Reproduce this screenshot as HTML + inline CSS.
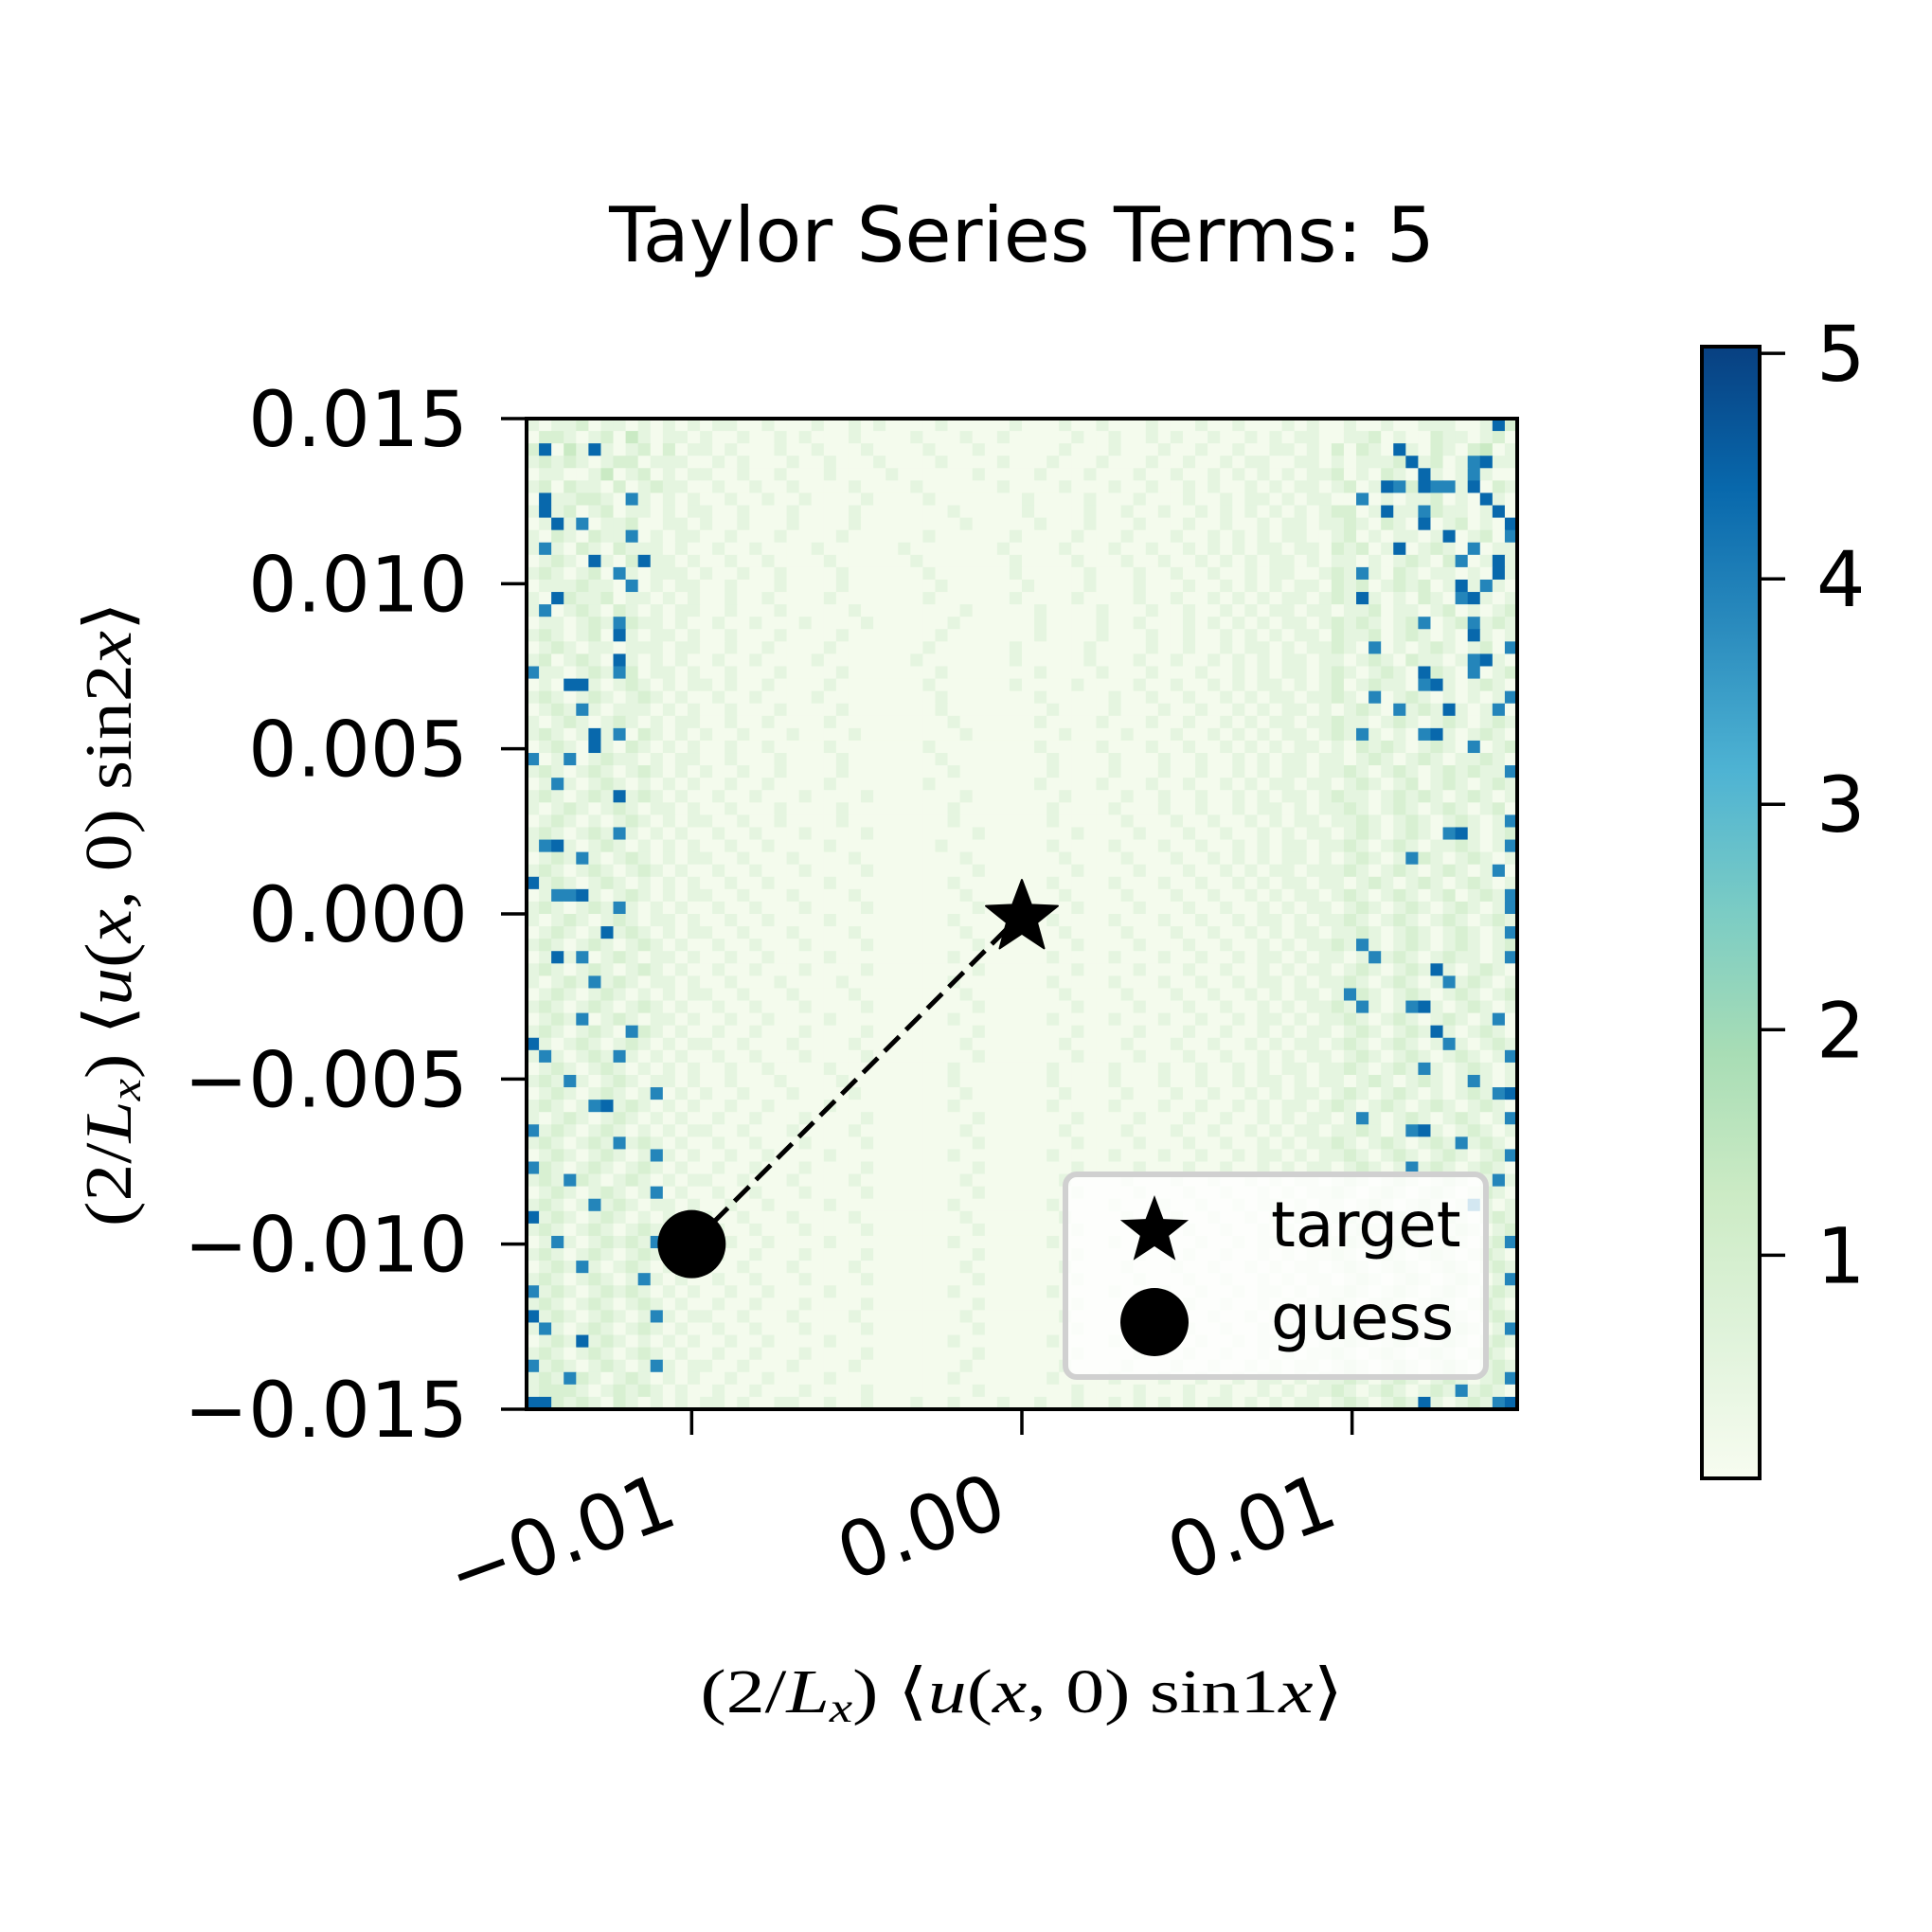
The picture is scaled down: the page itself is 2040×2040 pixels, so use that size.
<!DOCTYPE html>
<html><head><meta charset="utf-8"><style>
html,body{margin:0;padding:0;background:#fff;}
svg{display:block;}
text{font-family:"DejaVu Sans","Liberation Sans",sans-serif;fill:#000;}
.serif{font-family:"Liberation Serif","DejaVu Serif",serif;}
</style></head><body>
<svg id="chart" width="2040" height="2040" viewBox="0 0 2040 2040" xmlns="http://www.w3.org/2000/svg">
<rect width="2040" height="2040" fill="#fff"/>
<defs>
<linearGradient id="gnbu" x1="0" y1="1" x2="0" y2="0">
<stop offset="0" stop-color="#f7fcf0"/><stop offset="0.125" stop-color="#e0f3db"/><stop offset="0.25" stop-color="#ccebc5"/><stop offset="0.375" stop-color="#a8ddb5"/><stop offset="0.5" stop-color="#7bccc4"/><stop offset="0.625" stop-color="#4eb3d3"/><stop offset="0.75" stop-color="#2b8cbe"/><stop offset="0.875" stop-color="#0868ac"/><stop offset="1" stop-color="#084081"/>
</linearGradient>
</defs>
<text x="1079" y="276" font-size="80" text-anchor="middle">Taylor Series Terms: 5</text>
<g id="cells"></g>
<g id="marks"></g>
<rect x="556" y="442" width="1046" height="1046" fill="none" stroke="#000" stroke-width="4"/>
<g id="xticks"></g>
<g id="yticks"></g>
<g>
<rect x="1125" y="1240" width="444" height="214" rx="12" fill="#fff" fill-opacity="0.8" stroke="#d0d0d0" stroke-width="6"/>
<polygon id="lstar" fill="#000"/>
<circle cx="1219" cy="1396" r="36" fill="#000"/>
<text x="1342" y="1316" font-size="66">target</text>
<text x="1342" y="1414" font-size="66">guess</text>
</g>
<text class="serif" transform="translate(138,965) rotate(-90)" font-size="70" text-anchor="middle" textLength="660" lengthAdjust="spacingAndGlyphs">(2/<tspan font-style="italic">L</tspan><tspan font-style="italic" font-size="46" dy="10">x</tspan><tspan dy="-10">) ⟨</tspan><tspan font-style="italic">u</tspan>(<tspan font-style="italic">x</tspan>, 0) sin2<tspan font-style="italic">x</tspan>⟩</text>
<text class="serif" x="1079" y="1808" font-size="66" text-anchor="middle" textLength="679" lengthAdjust="spacingAndGlyphs">(2/<tspan font-style="italic">L</tspan><tspan font-style="italic" font-size="44" dy="10">x</tspan><tspan dy="-10">) ⟨</tspan><tspan font-style="italic">u</tspan>(<tspan font-style="italic">x</tspan>, 0) sin1<tspan font-style="italic">x</tspan>⟩</text>
<g>
<rect x="1797" y="366" width="61" height="1195" fill="url(#gnbu)" stroke="#000" stroke-width="4"/>
<g id="cticks"></g>
</g>
</svg>
<script>
const rows = [
"10112011010101011001000100101000010000010001001000100010010001010010010011100182",
"02210120310110100100101000100001000100100000100100101001001010110011201002110120",
"28031810120201101000100100010000100010000001000100010010010011010202108102102301",
"12121012201110010100010010001000010000100010001000100100101100110101112812017811",
"01100130120101100100100010000100000010000100010001001001010101011201021081017100",
"12021102012110010010010000100001000000100001000100100101001010110120187287718021",
"08112210710101001001001000010000100000001000010001000100101101011007010112010810",
"18120120110101100100010000100000001000001000010010010010101010101220181172110180",
"01817011200110100100010000100000000100000100010001000100100101101121021080120108",
"10210211701011001000100001000000100000010000100010001001010101100120101101801207",
"17102102111010010010000100000010000000100001000100100101010110110212018012107011",
"01210810281101001001000010000001000000010000100010010010101011010110101210270181",
"12101207101110100100100001000000100000010000010001001001001011001217102101101081",
"01112110701011001000100001000000010000001000010001000100101010110212012120181710",
"10821120110101001001000010000000100000010000100001001001010101101218101021078101",
"17012102101011001000100000100000000100000100001000100100101011011011201101201012",
"01101217211010010010001000010000001000000100001001000101010101101212101270127121",
"12101208101101001000100001000000010000000100001000100100101010110211201210108101",
"01210110111011001001000010000000100000010000010000100100101101011210701012101207",
"12012108101010010010000100000001000000010000010001001001010101101101210211017810",
"71101217201101001000100001000000010000000100001000100010010101101210121082107012",
"01088101210101101001000010000000100000010000100001001001010110101201211078101210",
"12101210121010010010000100000000010000000100000100100100101011011210701210101017",
"01217101110101001000100001000000010000000010000100010010010101101012107121810170",
"10121012101011001001000010000000001000000100001000100100101011011211012101210121",
"12101817021010100100010000100000000100000001000010001001010101101217101078101210",
"01210810210101001001000010000000100000000100001000100100101010110102121012107012",
"70170121101011001000100001000000010000000010000100010010010101101101210121011210",
"12101210121010100100100001000000001000000010000100010010010101101121012101212117",
"01710121010101001001000010000000100000000100001000100100101011011012101201210121",
"12101218121010010010001000010000000100000001000010010010010101101211012121012101",
"10121012101101001000100001000000001000000010000100010010010110101121012101210120",
"01210101210101100100100001000000001000000010000010001001001010110112101210121017",
"12101217101010010010001000010000000010000000100001000100100101011012101210781012",
"17810121010101001001000010000000010000000010000100010010010101101121012101121017",
"01217101210101100100010000100000000100000001000010001001010101101012101721012101",
"12101210121010010010001000010000000010000000100001000100101011011121012101210170",
"81210121010101001001000010000000001000000010000100010010010101101101210121012101",
"01778101210101100100010000100000000100000001000010001001001010110121012101201217",
"12101217101010010010001000010000000010000000100001000100100101011012101210121017",
"10121012101101001001000010000000001000000010000100010010010110101121012101210121",
"01210181210101100100010000100000000100000001000010001001001010110112101210121017",
"12101210121010010010001000010000000010000000100001000100100101011217101210121012",
"01817012101101001001000010000000001000000010000100010010010110101101712101211017",
"12101210121010010010001000010000000010000000100001000100100101011012101218101210",
"10121712101101001000100001000000001000000010000100010010010110101121012101712101",
"01210121010101100100010000100000000100000001000010001001001010110172101210121012",
"12101210121010010010001000010000000010000000100001000100100101011217101781012101",
"01217012101101001001000010000000001000000010000100010010010110101121012101210170",
"12101210721010010010001000010000000010000000100001000100100101011012101218101210",
"81012101210101100100010000100000000100000001000010001001001010110121012101710121",
"17101217101010010010001000010000000010000000100001000100100101011012101210121017",
"01210121010101001001000010000000001000000010000100010010010101101121012171012101",
"12171012101101001000100001000000001000000010000100010010010110101101210121017101",
"01210121017010100100010000100000000100000001000010001001001010110121012101012178",
"12101781210101001001000010000000001000000010000100010010010101101210121012101210",
"10121012101010010010001000010000000010000000100001000100100101011017101210121017",
"71210121010101100100010000100000000100000001000010001001001010110112101781012101",
"12101217121010010010001000010000000010000000100001000100100101011210121012171210",
"01210121017101001001000010000000001000000010000100010010010110101121012101210127",
"72101210121010010010001000010000000010000000100001000100100101011012101712101210",
"12172101210101100100010000100000000100000001000010001001001010110121012101210171",
"01210121017010010010001000010000000010000000100001000100100101011210121012101210",
"12101712101101001001000010000000001000000010000100010010010110101101210121017101",
"81210121010101100100010000100000000100000001000010001001001010110121012101210121",
"12101210121010010010001000010000000010000000100001000100100101011012101210121012",
"01710121217101001001000010000000001000000010000100010010010110101121012101210127",
"12101210121010010010001000010000000010000000100001000100100101011210121012101210",
"01217101210101100100010000100000000100000001000010001001001010110121012101210121",
"12101210171010010010001000010000000010000000100001000100100101011012101210121017",
"71210121210101001001000010000000001000000010000100010010010110101121012101210121",
"12101210121010010010001000010000000010000000100001000100100101011210121012101210",
"81210121017101100100010000100000000100000001000010001001001010110121012101210121",
"17101210121010010010001000010000000010000000100001000100100101011012101210121017",
"01218121010101001001000010000000001000000010000100010010010110101121012101210121",
"12101210121010010010001000010000000010000000100001000100100101011210121012101210",
"71210121017101100100010000100000000100000001000010001001001010110121012101210121",
"12172101210101001001000010000000001000000010000100010010010110101121012101210127",
"12221012121010010010001000010000000010000000100001000100100101011210121012171210",
"88212102101010110100110010010001001000100100100101010101101010110121012181012178"
];
const levels = [0.1,0.5,0.9,1.3,1.8,2.3,2.9,3.9,4.4,4.9];
const xTicks = [-0.01, 0.00, 0.01];
const xTickLabels = ["\u22120.01","0.00","0.01"];
const yTicks = [0.015,0.010,0.005,0.000,-0.005,-0.010,-0.015];
const yTickLabels = ["0.015","0.010","0.005","0.000","\u22120.005","\u22120.010","\u22120.015"];
const cTicks = [1,2,3,4,5];
const cTickLabels = ["1","2","3","4","5"];
const targetPt = [0.0, 0.0];
const guessPt = [-0.01, -0.01];

const NS="http://www.w3.org/2000/svg";
const X0=556,X1=1602,Y0=442,Y1=1488,DMIN=-0.015,DMAX=0.015;
const sx=v=>X0+(v-DMIN)/(DMAX-DMIN)*(X1-X0);
const sy=v=>Y1-(v-DMIN)/(DMAX-DMIN)*(Y1-Y0);
const CMIN=0.01,CMAX=5.03,CB0=1561,CB1=366;
const sc=v=>CB0-(v-CMIN)/(CMAX-CMIN)*(CB0-CB1);
const stops=[[247,252,240],[224,243,219],[204,235,197],[168,221,181],[123,204,196],[78,179,211],[43,140,190],[8,104,172],[8,64,129]];
function cmap(v){let t=Math.max(0,Math.min(1,(v-CMIN)/(CMAX-CMIN)))*8;let i=Math.min(7,Math.floor(t)),f=t-i;
const a=stops[i],b=stops[i+1];return `rgb(${a.map((c,k)=>Math.round(c+(b[k]-c)*f)).join(',')})`;}
function mk(tag,attrs,parent){const e=document.createElementNS(NS,tag);for(const k in attrs)e.setAttribute(k,attrs[k]);parent.appendChild(e);return e;}

const cells=document.getElementById('cells');
const n=rows.length, cw=(X1-X0)/80, ch=(Y1-Y0)/n;
rows.forEach((r,ri)=>{
  const s=(r+"0".repeat(80)).slice(0,80);
  for(let ci=0;ci<80;ci++){
    const v=levels[+s[ci]];
    const el=mk('rect',{x:(X0+ci*cw).toFixed(2),y:(Y0+ri*ch).toFixed(2),width:(cw+0.6).toFixed(2),height:(ch+0.6).toFixed(2),fill:cmap(v)},cells);
    
    
  }
});

function starPts(cx,cy,R){const r=R*0.42,p=[];for(let i=0;i<10;i++){const a=-Math.PI/2+i*Math.PI/5,rr=i%2?r:R;p.push((cx+rr*Math.cos(a)).toFixed(1)+','+(cy+rr*Math.sin(a)).toFixed(1));}return p.join(' ');}
const marks=document.getElementById('marks');
const ln=mk('line',{x1:sx(guessPt[0]),y1:sy(guessPt[1]),x2:sx(targetPt[0]),y2:sy(targetPt[1]),stroke:'#000','stroke-width':5,'stroke-dasharray':'22 10'},marks);


const st=mk('polygon',{points:starPts(sx(targetPt[0]),sy(targetPt[1])+4,40),fill:'#000','stroke-linejoin':'round',stroke:'#000','stroke-width':2},marks);


const gc=mk('circle',{cx:sx(guessPt[0]),cy:sy(guessPt[1]),r:36,fill:'#000'},marks);


document.getElementById('lstar').setAttribute('points',starPts(1219,1300,38));

const xg=document.getElementById('xticks');
xTicks.forEach((v,i)=>{
  const x=sx(v);
  const t=mk('line',{x1:x,y1:Y1,x2:x,y2:Y1+27,stroke:'#000','stroke-width':3.5},xg);
  
  
  const tx=mk('text',{x:0,y:0,'font-size':81,'text-anchor':'end',transform:`translate(${x-12},1608) rotate(-20)`},xg);
  tx.textContent=xTickLabels[i];
  
  
});
const yg=document.getElementById('yticks');
yTicks.forEach((v,i)=>{
  const y=sy(v);
  const t=mk('line',{x1:X0-27,y1:y,x2:X0,y2:y,stroke:'#000','stroke-width':3.5},yg);
  
  
  const tx=mk('text',{x:494,y:y+29,'font-size':81,'text-anchor':'end'},yg);
  tx.textContent=yTickLabels[i];
  
  
});
const cg=document.getElementById('cticks');
cTicks.forEach((v,i)=>{
  const y=sc(v);
  const t=mk('line',{x1:1858,y1:y,x2:1885,y2:y,stroke:'#000','stroke-width':3.5},cg);
  
  
  const tx=mk('text',{x:1918,y:y+29,'font-size':81},cg);
  tx.textContent=cTickLabels[i];
  
  
});
</script>
</body></html>
